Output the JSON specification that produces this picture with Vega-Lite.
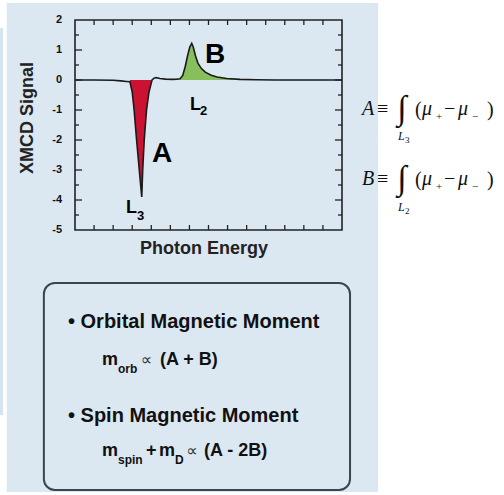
{
  "$schema": "https://vega.github.io/schema/vega-lite/v6.json",
  "width": 267,
  "height": 210,
  "autosize": {"type": "none"},
  "padding": {"left": 75, "top": 20, "right": 162, "bottom": 265},
  "background": "white",
  "config": {"view": {"stroke": null}, "axisX": {"disable": true}, "axisY": {"disable": true}},
  "datasets": {
    "panels": [
      {"name": "panel", "x": -3.579, "x2": 15.895, "y": 2.567, "y2": -13.733},
      {"name": "strip", "x": -3.933, "x2": -3.776, "y": 1.733, "y2": -11.167}
    ],
    "curve": [
      {"x": 0, "y": 0, "part": "base"},
      {"x": 1.0, "y": 0.0, "part": "base"},
      {"x": 2.0, "y": -0.01, "part": "base"},
      {"x": 2.4, "y": -0.03, "part": "base"},
      {"x": 2.7, "y": -0.05, "part": "base"},
      {"x": 2.88, "y": -0.06, "part": "A"},
      {"x": 3.0, "y": -0.4, "part": "A"},
      {"x": 3.1, "y": -1.0, "part": "A"},
      {"x": 3.23, "y": -2.0, "part": "A"},
      {"x": 3.37, "y": -3.0, "part": "A"},
      {"x": 3.5, "y": -3.9, "part": "A"},
      {"x": 3.55, "y": -3.0, "part": "A"},
      {"x": 3.63, "y": -2.0, "part": "A"},
      {"x": 3.75, "y": -1.0, "part": "A"},
      {"x": 3.88, "y": -0.4, "part": "A"},
      {"x": 4.04, "y": 0.0, "part": "A"},
      {"x": 4.15, "y": 0.06, "part": "base"},
      {"x": 4.25, "y": 0.08, "part": "base"},
      {"x": 4.45, "y": 0.05, "part": "base"},
      {"x": 4.75, "y": 0.03, "part": "base"},
      {"x": 5.1, "y": 0.02, "part": "base"},
      {"x": 5.35, "y": 0.03, "part": "base"},
      {"x": 5.51, "y": 0.04, "part": "B"},
      {"x": 5.65, "y": 0.15, "part": "B"},
      {"x": 5.78, "y": 0.45, "part": "B"},
      {"x": 5.9, "y": 0.8, "part": "B"},
      {"x": 6.02, "y": 1.1, "part": "B"},
      {"x": 6.12, "y": 1.22, "part": "B"},
      {"x": 6.2, "y": 1.1, "part": "B"},
      {"x": 6.32, "y": 0.8, "part": "B"},
      {"x": 6.45, "y": 0.55, "part": "B"},
      {"x": 6.63, "y": 0.38, "part": "B"},
      {"x": 6.83, "y": 0.26, "part": "B"},
      {"x": 7.14, "y": 0.16, "part": "B"},
      {"x": 7.45, "y": 0.1, "part": "B"},
      {"x": 7.95, "y": 0.05, "part": "B"},
      {"x": 8.65, "y": 0.02, "part": "B"},
      {"x": 9.5, "y": 0.01, "part": "base"},
      {"x": 10.5, "y": 0.0, "part": "base"},
      {"x": 12, "y": 0.0, "part": "base"},
      {"x": 14, "y": 0.0, "part": "base"}
    ],
    "hticks": [
      {"x": 0, "x2": 0.37, "y": -4}, {"x": 0, "x2": 0.37, "y": -3}, {"x": 0, "x2": 0.37, "y": -2},
      {"x": 0, "x2": 0.37, "y": -1}, {"x": 0, "x2": 0.37, "y": 0}, {"x": 0, "x2": 0.37, "y": 1},
      {"x": 0, "x2": 0.21, "y": -4.5}, {"x": 0, "x2": 0.21, "y": -3.5}, {"x": 0, "x2": 0.21, "y": -2.5},
      {"x": 0, "x2": 0.21, "y": -1.5}, {"x": 0, "x2": 0.21, "y": -0.5}, {"x": 0, "x2": 0.21, "y": 0.5},
      {"x": 0, "x2": 0.21, "y": 1.5},
      {"x": 14, "x2": 13.63, "y": -4}, {"x": 14, "x2": 13.63, "y": -3}, {"x": 14, "x2": 13.63, "y": -2},
      {"x": 14, "x2": 13.63, "y": -1}, {"x": 14, "x2": 13.63, "y": 0}, {"x": 14, "x2": 13.63, "y": 1},
      {"x": 14, "x2": 13.79, "y": -4.5}, {"x": 14, "x2": 13.79, "y": -3.5}, {"x": 14, "x2": 13.79, "y": -2.5},
      {"x": 14, "x2": 13.79, "y": -1.5}, {"x": 14, "x2": 13.79, "y": -0.5}, {"x": 14, "x2": 13.79, "y": 0.5},
      {"x": 14, "x2": 13.79, "y": 1.5}
    ],
    "vticks": [
      {"x": 1, "y": 2, "y2": 1.833}, {"x": 2, "y": 2, "y2": 1.833}, {"x": 3, "y": 2, "y2": 1.833},
      {"x": 4, "y": 2, "y2": 1.833}, {"x": 5, "y": 2, "y2": 1.833}, {"x": 6, "y": 2, "y2": 1.833},
      {"x": 7, "y": 2, "y2": 1.833}, {"x": 8, "y": 2, "y2": 1.833}, {"x": 9, "y": 2, "y2": 1.833},
      {"x": 10, "y": 2, "y2": 1.833}, {"x": 11, "y": 2, "y2": 1.833}, {"x": 12, "y": 2, "y2": 1.833},
      {"x": 13, "y": 2, "y2": 1.833},
      {"x": 1, "y": -5, "y2": -4.833}, {"x": 2, "y": -5, "y2": -4.833}, {"x": 3, "y": -5, "y2": -4.833},
      {"x": 4, "y": -5, "y2": -4.833}, {"x": 5, "y": -5, "y2": -4.833}, {"x": 6, "y": -5, "y2": -4.833},
      {"x": 7, "y": -5, "y2": -4.833}, {"x": 8, "y": -5, "y2": -4.833}, {"x": 9, "y": -5, "y2": -4.833},
      {"x": 10, "y": -5, "y2": -4.833}, {"x": 11, "y": -5, "y2": -4.833}, {"x": 12, "y": -5, "y2": -4.833},
      {"x": 13, "y": -5, "y2": -4.833}
    ],
    "frame": [{"x": 0, "x2": 14, "y": -5, "y2": 2}],
    "box": [{"x": -1.632, "x2": 14.421, "y": -6.767, "y2": -13.667}],
    "texts": [
      {"role": "ylab", "t": "2", "x": -0.68, "y": 2},
      {"role": "ylab", "t": "1", "x": -0.68, "y": 1},
      {"role": "ylab", "t": "0", "x": -0.68, "y": 0},
      {"role": "ylab", "t": "-1", "x": -0.68, "y": -1},
      {"role": "ylab", "t": "-2", "x": -0.68, "y": -2},
      {"role": "ylab", "t": "-3", "x": -0.68, "y": -3},
      {"role": "ylab", "t": "-4", "x": -0.68, "y": -4},
      {"role": "ylab", "t": "-5", "x": -0.68, "y": -5},
      {"role": "big", "t": "A", "x": 4.562, "y": -2.733},
      {"role": "big", "t": "B", "x": 7.341, "y": 0.567},
      {"role": "lbl", "t": "L", "x": 6.03, "y": -1.0},
      {"role": "lbl", "t": "L", "x": 2.674, "y": -4.433},
      {"role": "lsub", "t": "2", "x": 6.555, "y": -1.167},
      {"role": "lsub", "t": "3", "x": 3.251, "y": -4.667},
      {"role": "ytitle", "t": "XMCD Signal", "x": -2.465, "y": -1.267},
      {"role": "xtitle", "t": "Photon Energy", "x": 6.765, "y": -5.8},
      {"role": "head", "t": "• Orbital Magnetic Moment", "x": -0.367, "y": -8.267},
      {"role": "head", "t": "• Spin Magnetic Moment", "x": -0.367, "y": -11.4},
      {"role": "fm", "t": "m", "x": 1.416, "y": -9.5},
      {"role": "fm", "t": "(A + B)", "x": 4.457, "y": -9.5},
      {"role": "fm", "t": "m", "x": 1.416, "y": -12.533},
      {"role": "fm", "t": "+", "x": 3.723, "y": -12.533},
      {"role": "fm", "t": "m", "x": 4.405, "y": -12.533},
      {"role": "fm", "t": "(A - 2B)", "x": 6.76, "y": -12.533},
      {"role": "fs", "t": "orb", "x": 2.255, "y": -9.767},
      {"role": "fs", "t": "spin", "x": 2.255, "y": -12.8},
      {"role": "fs", "t": "D", "x": 5.244, "y": -12.8},
      {"role": "prop", "t": "∝", "x": 3.45, "y": -9.5},
      {"role": "prop", "t": "∝", "x": 5.83, "y": -12.533},
      {"role": "si", "t": "A", "x": 15.05, "y": -1.167},
      {"role": "si", "t": "μ", "x": 18.196, "y": -1.167},
      {"role": "si", "t": "μ", "x": 20.084, "y": -1.167},
      {"role": "si", "t": "B", "x": 15.05, "y": -3.5},
      {"role": "si", "t": "μ", "x": 18.196, "y": -3.5},
      {"role": "si", "t": "μ", "x": 20.084, "y": -3.5},
      {"role": "sr", "t": "≡", "x": 15.84, "y": -1.167},
      {"role": "sr", "t": "(", "x": 17.829, "y": -1.2},
      {"role": "sr", "t": "−", "x": 19.35, "y": -1.167},
      {"role": "sr", "t": ")", "x": 21.605, "y": -1.2},
      {"role": "sr", "t": "≡", "x": 15.84, "y": -3.5},
      {"role": "sr", "t": "(", "x": 17.829, "y": -3.533},
      {"role": "sr", "t": "−", "x": 19.35, "y": -3.5},
      {"role": "sr", "t": ")", "x": 21.605, "y": -3.533},
      {"role": "int", "t": "∫", "x": 17.147, "y": -1.3},
      {"role": "int", "t": "∫", "x": 17.147, "y": -3.633},
      {"role": "ssub", "t": "+", "x": 18.93, "y": -1.333},
      {"role": "ssub", "t": "−", "x": 20.818, "y": -1.333},
      {"role": "ssub", "t": "+", "x": 18.93, "y": -3.667},
      {"role": "ssub", "t": "−", "x": 20.818, "y": -3.667},
      {"role": "limL", "t": "L", "x": 16.937, "y": -2.0},
      {"role": "limL", "t": "L", "x": 16.937, "y": -4.367},
      {"role": "limN", "t": "3", "x": 17.305, "y": -2.1},
      {"role": "limN", "t": "2", "x": 17.305, "y": -4.467}
    ]
  },
  "layer": [
    {
      "data": {"name": "panels"},
      "transform": [{"filter": "datum.name == 'panel'"}],
      "mark": {"type": "rect", "color": "#dce8f1"},
      "encoding": {
        "x": {"field": "x", "type": "quantitative", "scale": {"domain": [0, 14], "nice": false, "zero": false}},
        "x2": {"field": "x2"},
        "y": {"field": "y", "type": "quantitative", "scale": {"domain": [-5, 2], "nice": false, "zero": false}},
        "y2": {"field": "y2"}
      }
    },
    {
      "data": {"name": "panels"},
      "transform": [{"filter": "datum.name == 'strip'"}],
      "mark": {"type": "rect", "color": "#d4e5f1"},
      "encoding": {
        "x": {"field": "x", "type": "quantitative"}, "x2": {"field": "x2"},
        "y": {"field": "y", "type": "quantitative"}, "y2": {"field": "y2"}
      }
    },
    {
      "data": {"name": "box"},
      "mark": {"type": "rect", "fill": null, "fillOpacity": 0, "stroke": "#3a4550", "strokeWidth": 2, "cornerRadius": 11},
      "encoding": {
        "x": {"field": "x", "type": "quantitative"}, "x2": {"field": "x2"},
        "y": {"field": "y", "type": "quantitative"}, "y2": {"field": "y2"}
      }
    },
    {
      "data": {"name": "curve"},
      "transform": [{"filter": "datum.part != 'base'"}],
      "mark": {"type": "area", "line": false},
      "encoding": {
        "x": {"field": "x", "type": "quantitative"},
        "y": {"field": "y", "type": "quantitative"},
        "y2": {"datum": 0},
        "color": {"field": "part", "type": "nominal", "scale": {"domain": ["A", "B"], "range": ["#cc1233", "#86bf5c"]}, "legend": null}
      }
    },
    {
      "data": {"name": "curve"},
      "mark": {"type": "line", "color": "#1a1a1a", "strokeWidth": 1.6},
      "encoding": {
        "x": {"field": "x", "type": "quantitative"},
        "y": {"field": "y", "type": "quantitative"}
      }
    },
    {
      "data": {"name": "hticks"},
      "mark": {"type": "rule", "color": "#222", "strokeWidth": 1.3},
      "encoding": {
        "x": {"field": "x", "type": "quantitative"}, "x2": {"field": "x2"},
        "y": {"field": "y", "type": "quantitative"}
      }
    },
    {
      "data": {"name": "vticks"},
      "mark": {"type": "rule", "color": "#222", "strokeWidth": 1.3},
      "encoding": {
        "x": {"field": "x", "type": "quantitative"},
        "y": {"field": "y", "type": "quantitative"}, "y2": {"field": "y2"}
      }
    },
    {
      "data": {"name": "frame"},
      "mark": {"type": "rect", "fill": null, "fillOpacity": 0, "stroke": "#222", "strokeWidth": 1.6},
      "encoding": {
        "x": {"field": "x", "type": "quantitative"}, "x2": {"field": "x2"},
        "y": {"field": "y", "type": "quantitative"}, "y2": {"field": "y2"}
      }
    },
    {
      "data": {"name": "texts"},
      "transform": [{"filter": "datum.role == 'ylab'"}],
      "mark": {"type": "text", "font": "Liberation Sans", "fontWeight": "bold", "fontSize": 11, "align": "right", "baseline": "middle", "color": "#111"},
      "encoding": {"x": {"field": "x", "type": "quantitative"}, "y": {"field": "y", "type": "quantitative"}, "text": {"field": "t"}}
    },
    {
      "data": {"name": "texts"},
      "transform": [{"filter": "datum.role == 'big'"}],
      "mark": {"type": "text", "font": "Liberation Sans", "fontWeight": "bold", "fontSize": 28, "align": "center", "baseline": "alphabetic", "color": "#000"},
      "encoding": {"x": {"field": "x", "type": "quantitative"}, "y": {"field": "y", "type": "quantitative"}, "text": {"field": "t"}}
    },
    {
      "data": {"name": "texts"},
      "transform": [{"filter": "datum.role == 'lbl'"}],
      "mark": {"type": "text", "font": "Liberation Sans", "fontWeight": "bold", "fontSize": 18, "align": "left", "baseline": "alphabetic", "color": "#000"},
      "encoding": {"x": {"field": "x", "type": "quantitative"}, "y": {"field": "y", "type": "quantitative"}, "text": {"field": "t"}}
    },
    {
      "data": {"name": "texts"},
      "transform": [{"filter": "datum.role == 'lsub'"}],
      "mark": {"type": "text", "font": "Liberation Sans", "fontWeight": "bold", "fontSize": 13, "align": "left", "baseline": "alphabetic", "color": "#000"},
      "encoding": {"x": {"field": "x", "type": "quantitative"}, "y": {"field": "y", "type": "quantitative"}, "text": {"field": "t"}}
    },
    {
      "data": {"name": "texts"},
      "transform": [{"filter": "datum.role == 'ytitle'"}],
      "mark": {"type": "text", "font": "Liberation Sans", "fontWeight": "bold", "fontSize": 18, "align": "center", "baseline": "middle", "angle": 270, "color": "#222"},
      "encoding": {"x": {"field": "x", "type": "quantitative"}, "y": {"field": "y", "type": "quantitative"}, "text": {"field": "t"}}
    },
    {
      "data": {"name": "texts"},
      "transform": [{"filter": "datum.role == 'xtitle'"}],
      "mark": {"type": "text", "font": "Liberation Sans", "fontWeight": "bold", "fontSize": 18, "align": "center", "baseline": "alphabetic", "color": "#222"},
      "encoding": {"x": {"field": "x", "type": "quantitative"}, "y": {"field": "y", "type": "quantitative"}, "text": {"field": "t"}}
    },
    {
      "data": {"name": "texts"},
      "transform": [{"filter": "datum.role == 'head'"}],
      "mark": {"type": "text", "font": "Liberation Sans", "fontWeight": "bold", "fontSize": 20, "align": "left", "baseline": "alphabetic", "color": "#111"},
      "encoding": {"x": {"field": "x", "type": "quantitative"}, "y": {"field": "y", "type": "quantitative"}, "text": {"field": "t"}}
    },
    {
      "data": {"name": "texts"},
      "transform": [{"filter": "datum.role == 'fm'"}],
      "mark": {"type": "text", "font": "Liberation Sans", "fontWeight": "bold", "fontSize": 18, "align": "left", "baseline": "alphabetic", "color": "#111"},
      "encoding": {"x": {"field": "x", "type": "quantitative"}, "y": {"field": "y", "type": "quantitative"}, "text": {"field": "t"}}
    },
    {
      "data": {"name": "texts"},
      "transform": [{"filter": "datum.role == 'fs'"}],
      "mark": {"type": "text", "font": "Liberation Sans", "fontWeight": "bold", "fontSize": 12, "align": "left", "baseline": "alphabetic", "color": "#111"},
      "encoding": {"x": {"field": "x", "type": "quantitative"}, "y": {"field": "y", "type": "quantitative"}, "text": {"field": "t"}}
    },
    {
      "data": {"name": "texts"},
      "transform": [{"filter": "datum.role == 'prop'"}],
      "mark": {"type": "text", "font": "DejaVu Sans", "fontSize": 16, "align": "left", "baseline": "alphabetic", "color": "#333"},
      "encoding": {"x": {"field": "x", "type": "quantitative"}, "y": {"field": "y", "type": "quantitative"}, "text": {"field": "t"}}
    },
    {
      "data": {"name": "texts"},
      "transform": [{"filter": "datum.role == 'si'"}],
      "mark": {"type": "text", "font": "Liberation Serif", "fontStyle": "italic", "fontSize": 20, "align": "left", "baseline": "alphabetic", "color": "#111"},
      "encoding": {"x": {"field": "x", "type": "quantitative"}, "y": {"field": "y", "type": "quantitative"}, "text": {"field": "t"}}
    },
    {
      "data": {"name": "texts"},
      "transform": [{"filter": "datum.role == 'sr'"}],
      "mark": {"type": "text", "font": "Liberation Serif", "fontSize": 20, "align": "left", "baseline": "alphabetic", "color": "#111"},
      "encoding": {"x": {"field": "x", "type": "quantitative"}, "y": {"field": "y", "type": "quantitative"}, "text": {"field": "t"}}
    },
    {
      "data": {"name": "texts"},
      "transform": [{"filter": "datum.role == 'int'"}],
      "mark": {"type": "text", "font": "Liberation Serif", "fontSize": 34, "align": "center", "baseline": "alphabetic", "color": "#111"},
      "encoding": {"x": {"field": "x", "type": "quantitative"}, "y": {"field": "y", "type": "quantitative"}, "text": {"field": "t"}}
    },
    {
      "data": {"name": "texts"},
      "transform": [{"filter": "datum.role == 'ssub'"}],
      "mark": {"type": "text", "font": "Liberation Serif", "fontSize": 11, "align": "left", "baseline": "alphabetic", "color": "#111"},
      "encoding": {"x": {"field": "x", "type": "quantitative"}, "y": {"field": "y", "type": "quantitative"}, "text": {"field": "t"}}
    },
    {
      "data": {"name": "texts"},
      "transform": [{"filter": "datum.role == 'limL'"}],
      "mark": {"type": "text", "font": "Liberation Serif", "fontStyle": "italic", "fontSize": 12, "align": "left", "baseline": "alphabetic", "color": "#111"},
      "encoding": {"x": {"field": "x", "type": "quantitative"}, "y": {"field": "y", "type": "quantitative"}, "text": {"field": "t"}}
    },
    {
      "data": {"name": "texts"},
      "transform": [{"filter": "datum.role == 'limN'"}],
      "mark": {"type": "text", "font": "Liberation Serif", "fontSize": 9, "align": "left", "baseline": "alphabetic", "color": "#111"},
      "encoding": {"x": {"field": "x", "type": "quantitative"}, "y": {"field": "y", "type": "quantitative"}, "text": {"field": "t"}}
    }
  ]
}
